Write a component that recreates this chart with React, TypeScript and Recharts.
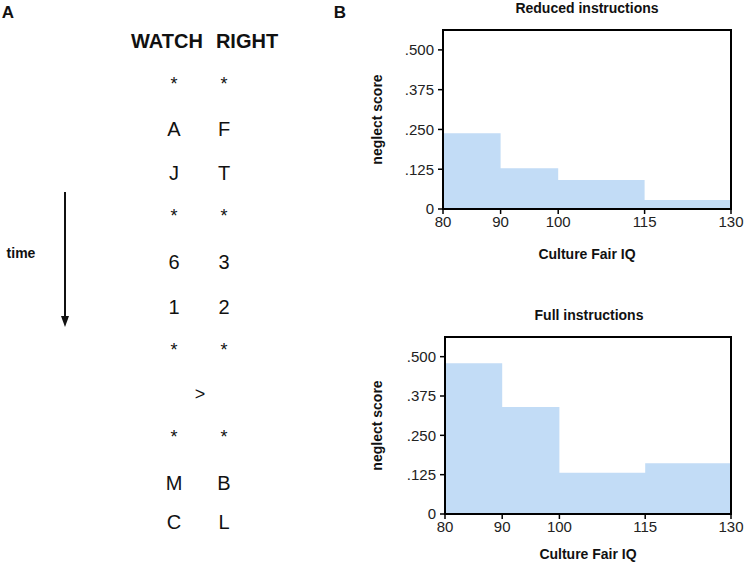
import { AreaChart, Area, XAxis, YAxis, ReferenceArea, Label } from "recharts";

// IQ bin edges and mean neglect score per bin
const iqBreaks = [80, 90, 100, 115, 130];
const reducedScores = [0.238, 0.128, 0.091, 0.028];
const fullScores = [0.479, 0.34, 0.131, 0.161];
const scoreTicks = [0, 0.125, 0.25, 0.375, 0.5];
const scoreMax = 0.5625;

// panel A: the letter stream
const watchCol = ["*", "A", "J", "*", "6", "1", "*", "", "*", "M", "C"];
const rightCol = ["*", "F", "T", "*", "3", "2", "*", "", "*", "B", "L"];
const rowY = [81, 129, 173, 213, 262, 307, 347, 394, 434, 483, 522];

const FONT = "'Liberation Sans', Arial, sans-serif";
const FILL = "#c2dcf6";

const fmtScore = (v: number) => (v === 0 ? "0" : v.toFixed(3).replace(/^0/, ""));

const toSteps = (scores: number[]) =>
  iqBreaks.map((iq, i) => ({ iq, score: scores[Math.min(i, scores.length - 1)] }));

function StepPanel({
  title,
  scores,
  top,
  titleY,
  plotTop,
  plotH,
  axisH,
  yWidth,
}: {
  title: string;
  scores: number[];
  top: number;
  titleY: number;
  plotTop: number;
  plotH: number;
  axisH: number;
  yWidth: number;
}) {
  const data = toSteps(scores);
  const h = 280;
  return (
    <div style={{ position: "absolute", left: 360, top, width: 386, height: h }}>
      <div
        style={{
          position: "absolute",
          left: yWidth,
          width: 288,
          top: titleY,
          textAlign: "center",
          fontFamily: FONT,
          fontWeight: "bold",
          fontSize: 14,
          lineHeight: "16px",
          color: "#111",
        }}
      >
        {title}
      </div>
      <AreaChart
        width={386}
        height={h}
        data={data}
        margin={{ top: plotTop, right: 15, left: 0, bottom: h - plotTop - plotH - axisH }}
      >
        <XAxis
          dataKey="iq"
          type="number"
          domain={[80, 130]}
          ticks={iqBreaks}
          allowDataOverflow
          height={axisH}
          axisLine={{ stroke: "#000", strokeWidth: 2 }}
          tickLine={{ stroke: "#000", strokeWidth: 1.5 }}
          tickSize={5}
          tickMargin={2}
          tick={{ fill: "#222", fontSize: 15, fontFamily: FONT }}
        >
          <Label
            value="Culture Fair IQ"
            position="insideBottom"
            offset={0}
            style={{ fill: "#111", fontSize: 14, fontWeight: "bold", fontFamily: FONT }}
          />
        </XAxis>
        <YAxis
          type="number"
          domain={[0, scoreMax]}
          ticks={scoreTicks}
          allowDataOverflow
          width={yWidth}
          tickFormatter={fmtScore}
          axisLine={{ stroke: "#000", strokeWidth: 2 }}
          tickLine={{ stroke: "#000", strokeWidth: 1.5 }}
          tickSize={5}
          tickMargin={4}
          tick={{ fill: "#222", fontSize: 15, fontFamily: FONT }}
        >
          <Label
            value="neglect score"
            angle={-90}
            position="insideLeft"
            offset={17}
            style={{
              fill: "#111",
              fontSize: 14,
              fontWeight: "bold",
              fontFamily: FONT,
              textAnchor: "middle",
            }}
          />
        </YAxis>
        <Area
          type="stepAfter"
          dataKey="score"
          stroke="none"
          fill={FILL}
          fillOpacity={1}
          isAnimationActive={false}
        />
        <ReferenceArea
          x1={80}
          x2={130}
          y1={0}
          y2={scoreMax}
          fill="none"
          stroke="#000"
          strokeWidth={2}
        />
      </AreaChart>
    </div>
  );
}

function PanelA() {
  const txt = { fontFamily: FONT, fill: "#111" } as const;
  return (
    <svg width={360} height={570} style={{ position: "absolute", left: 0, top: 0 }}>
      <text x={8} y={12} {...txt} fontSize={17} fontWeight="bold" textAnchor="middle" dominantBaseline="central">
        A
      </text>
      <text x={167} y={41} {...txt} fontSize={20} fontWeight="bold" textAnchor="middle" dominantBaseline="central">
        WATCH
      </text>
      <text x={247} y={41} {...txt} fontSize={20} fontWeight="bold" textAnchor="middle" dominantBaseline="central">
        RIGHT
      </text>
      {rowY.map((y, i) => {
        const star = watchCol[i] === "*";
        const fs = star ? 18 : 20;
        const dy = star ? 3 : 0;
        if (watchCol[i] === "") {
          return (
            <text key={i} x={200} y={y} {...txt} fontSize={18} textAnchor="middle" dominantBaseline="central">
              &gt;
            </text>
          );
        }
        return (
          <g key={i}>
            <text x={174} y={y + dy} {...txt} fontSize={fs} textAnchor="middle" dominantBaseline="central">
              {watchCol[i]}
            </text>
            <text x={224} y={y + dy} {...txt} fontSize={fs} textAnchor="middle" dominantBaseline="central">
              {rightCol[i]}
            </text>
          </g>
        );
      })}
      <line x1={65} y1={192} x2={65} y2={318} stroke="#111" strokeWidth={2} />
      <polygon points="61,316 69,316 65,327" fill="#111" />
      <text x={21} y={253} {...txt} fontSize={14} fontWeight="bold" textAnchor="middle" dominantBaseline="central">
        time
      </text>
      <text x={340} y={12} {...txt} fontSize={17} fontWeight="bold" textAnchor="middle" dominantBaseline="central">
        B
      </text>
    </svg>
  );
}

export default function App() {
  return (
    <div
      style={{
        position: "absolute",
        left: 0,
        top: 0,
        width: 746,
        height: 570,
        background: "#fff",
        overflow: "hidden",
      }}
    >
      <PanelA />
      <StepPanel
        title="Reduced instructions"
        scores={reducedScores}
        top={0}
        titleY={0}
        plotTop={30}
        plotH={179}
        axisH={50}
        yWidth={83}
      />
      <StepPanel
        title="Full instructions"
        scores={fullScores}
        top={290}
        titleY={17}
        plotTop={47}
        plotH={177}
        axisH={45}
        yWidth={85}
      />
    </div>
  );
}
